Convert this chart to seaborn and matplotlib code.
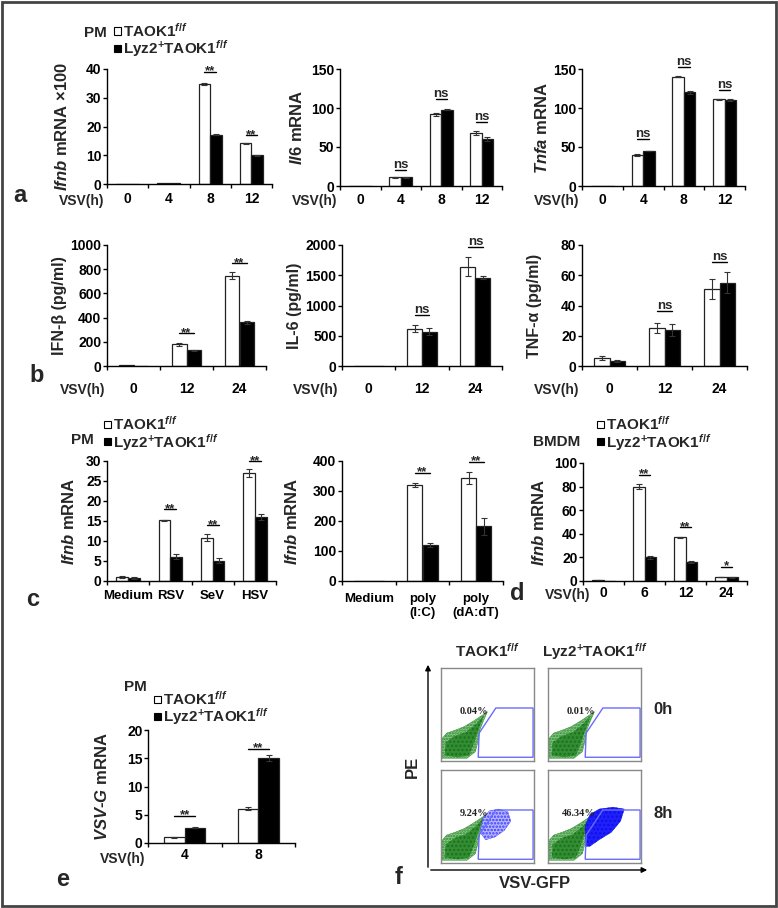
import numpy as np
import pandas as pd
import matplotlib
matplotlib.use("Agg")
import matplotlib.pyplot as plt
import seaborn as sns
from matplotlib.patches import Polygon, Rectangle, FancyArrowPatch

# ----------------------------
# DATA
# ----------------------------
GENO = ["TAOK1f/f", "Lyz2+TAOK1f/f"]

# a - qPCR, PM, VSV time course
a_time = ["0", "4", "8", "12"]
a_ifnb_wt = [0.1, 0.3, 34.8, 14.2]
a_ifnb_ko = [0.05, 0.2, 17.2, 10.0]
a_ifnb_wt_err = [0, 0, 0.5, 0.2]
a_ifnb_ko_err = [0, 0, 0.3, 0.2]
a_ifnb_sig = [(2, 39, "**"), (3, 17, "**")]

a_il6_wt = [0.5, 11, 92, 68]
a_il6_ko = [0.3, 11, 98, 60]
a_il6_wt_err = [0, 1, 2, 2]
a_il6_ko_err = [0, 1, 1, 2.5]
a_il6_sig = [(1, 20.5, "ns"), (2, 111.5, "ns"), (3, 82, "ns")]

a_tnfa_wt = [0.5, 40, 140, 111]
a_tnfa_ko = [0.3, 45, 120, 110]
a_tnfa_wt_err = [0, 1, 0.5, 1]
a_tnfa_ko_err = [0, 0.5, 2, 1]
a_tnfa_sig = [(1, 60, "ns"), (2, 152.5, "ns"), (3, 123, "ns")]

# b - ELISA
b_time = ["0", "12", "24"]
b_ifnb_wt = [8, 180, 745]
b_ifnb_ko = [0, 130, 360]
b_ifnb_wt_err = [0, 12, 30]
b_ifnb_ko_err = [0, 5, 15]
b_ifnb_sig = [(1, 270, "**"), (2, 851, "**")]

b_il6_wt = [0, 615, 1640]
b_il6_ko = [0, 570, 1460]
b_il6_wt_err = [0, 60, 160]
b_il6_ko_err = [0, 55, 30]
b_il6_sig = [(1, 840, "ns"), (2, 1960, "ns")]

b_tnf_wt = [5.2, 25, 51]
b_tnf_ko = [3.2, 24, 55]
b_tnf_wt_err = [1.2, 3.5, 6.5]
b_tnf_ko_err = [0.8, 4, 7]
b_tnf_sig = [(1, 36.5, "ns"), (2, 69, "ns")]

# c - other viruses / ligands
c_virus = ["Medium", "RSV", "SeV", "HSV"]
c_virus_wt = [1.0, 15.2, 10.8, 27.0]
c_virus_ko = [0.7, 6.1, 5.1, 16.0]
c_virus_wt_err = [0.3, 0.1, 0.9, 0.9]
c_virus_ko_err = [0.2, 0.6, 0.6, 0.8]
c_virus_sig = [(1, 17.9, "**"), (2, 13.9, "**"), (3, 30, "**")]

c_ligand = ["Medium", "poly\n(I:C)", "poly\n(dA:dT)"]
c_ligand_wt = [0.5, 320, 343]
c_ligand_ko = [1, 120, 182]
c_ligand_wt_err = [0, 8, 20]
c_ligand_ko_err = [0, 8, 28]
c_ligand_sig = [(1, 361, "**"), (2, 398, "**")]

# d - BMDM
d_time = ["0", "6", "12", "24"]
d_ifnb_wt = [0.8, 80, 37, 3.5]
d_ifnb_ko = [0.3, 20, 16, 3.0]
d_ifnb_wt_err = [0.3, 2, 0.5, 0.3]
d_ifnb_ko_err = [0, 1.5, 1, 0.5]
d_ifnb_sig = [(1, 90, "**"), (2, 45.6, "**"), (3, 12.2, "*")]

# e - VSV-G
e_time = ["4", "8"]
e_vsvg_wt = [1.0, 6.1]
e_vsvg_ko = [2.7, 15.0]
e_vsvg_wt_err = [0.15, 0.3]
e_vsvg_ko_err = [0.1, 0.5]
e_vsvg_sig = [(0, 4.8, "**"), (1, 16.7, "**")]

# f - flow cytometry (box coords 0-1)
f_pct = [["0.04%", "0.01%"], ["9.24%", "46.34%"]]
f_gate_x = [0.40, 0.41, 0.59, 0.99, 0.99]
f_gate_y = [0.04, 0.30, 0.57, 0.57, 0.04]
f_green_x = [0.01, 0.01, 0.06, 0.15, 0.25, 0.35, 0.44, 0.50, 0.46, 0.42, 0.40, 0.37, 0.28]
f_green_y = [0.03, 0.24, 0.30, 0.33, 0.37, 0.43, 0.49, 0.53, 0.44, 0.34, 0.22, 0.10, 0.03]
f_green_core_x = [0.04, 0.05, 0.15, 0.27, 0.38, 0.46, 0.40, 0.35, 0.30, 0.18]
f_green_core_y = [0.06, 0.20, 0.27, 0.31, 0.40, 0.49, 0.33, 0.18, 0.06, 0.04]
f_blue_low_x = [0.42, 0.45, 0.52, 0.62, 0.72, 0.75, 0.68, 0.58, 0.48]
f_blue_low_y = [0.33, 0.48, 0.56, 0.58, 0.55, 0.45, 0.35, 0.28, 0.25]
f_blue_high_x = [0.40, 0.40, 0.45, 0.55, 0.70, 0.82, 0.78, 0.68, 0.55, 0.45]
f_blue_high_y = [0.18, 0.40, 0.52, 0.58, 0.60, 0.58, 0.45, 0.33, 0.25, 0.18]

# ----------------------------
# STYLE
# ----------------------------
sns.set_theme(style="ticks")
plt.rcParams["font.family"] = ["Liberation Sans", "DejaVu Sans"]
plt.rcParams["font.weight"] = "bold"
plt.rcParams["axes.labelweight"] = "bold"
plt.rcParams["axes.edgecolor"] = "black"
plt.rcParams["axes.linewidth"] = 1.0
plt.rcParams["xtick.color"] = "black"
plt.rcParams["ytick.color"] = "black"
plt.rcParams["hatch.linewidth"] = 1.2
plt.rcParams["mathtext.fontset"] = "custom"
plt.rcParams["mathtext.rm"] = "Liberation Sans:bold"
plt.rcParams["mathtext.it"] = "Liberation Sans:italic:bold"
plt.rcParams["mathtext.bf"] = "Liberation Sans:bold"

W, H = 778, 908
fig = plt.figure(figsize=(W / 100, H / 100), dpi=100)

LBL_WT = r"TAOK1$^{f/f}$"
LBL_KO = r"Lyz2$^{+}$TAOK1$^{f/f}$"


def px_axes(x0, x1, y_top, y_bot):
    return fig.add_axes([x0 / W, 1 - y_bot / H, (x1 - x0) / W, (y_bot - y_top) / H])


def ftext(x, y, s, **kw):
    fig.text(x / W, 1 - y / H, s, **kw)


def bar_panel(box, cats, wt, ko, wt_err, ko_err, ymax, yticks, ylabel, ylab_px,
              tick_y, sigs, xsize=10, ysize=12):
    x0, x1, y_top, y_bot = box
    ax = px_axes(x0, x1, y_top, y_bot)
    df = pd.DataFrame({
        "cat": cats * 2,
        "val": wt + ko,
        "geno": [GENO[0]] * len(cats) + [GENO[1]] * len(cats),
    })
    sns.barplot(data=df, x="cat", y="val", hue="geno", palette=["white", "black"],
                saturation=1, width=0.56, errorbar=None, edgecolor="#222",
                linewidth=0.9, legend=False, ax=ax)
    for cont, err in zip(ax.containers, [wt_err, ko_err]):
        xs = [p.get_x() + p.get_width() / 2 for p in cont]
        ys = [p.get_height() for p in cont]
        keep = [i for i, e in enumerate(err) if e > 0]
        if keep:
            ax.errorbar([xs[i] for i in keep], [ys[i] for i in keep],
                        yerr=[err[i] for i in keep], fmt="none", ecolor="#333",
                        elinewidth=0.8, capsize=2.3, capthick=0.8)
    ax.set_ylim(0, ymax)
    ax.set_yticks(yticks)
    ax.set_xlabel("")
    ax.set_ylabel(ylabel, fontsize=ysize)
    sns.despine(ax=ax)
    n = len(cats)
    ax.set_xlim(-0.5, n - 0.5)
    ax.set_xticks(np.arange(n + 1) - 0.5, minor=True)
    pad_pt = max((tick_y - y_bot - 7.6) / 1.389, 0.5)
    ax.tick_params(axis="x", which="major", length=0, pad=pad_pt, labelsize=xsize)
    ax.tick_params(axis="x", which="minor", length=3, width=1)
    ax.tick_params(axis="y", length=3, width=1, labelsize=10, pad=1)
    ax.yaxis.set_label_coords((ylab_px + 8 - x0) / (x1 - x0), 0.5)
    for i, y, s in sigs:
        ax.plot([i - 0.14, i + 0.14], [y, y], color="black", lw=1, clip_on=False)
        off = -2 if "*" in s else 1.5
        ax.annotate(s, (i, y), xytext=(0, off), textcoords="offset points",
                    ha="center", va="baseline", fontsize=9.5, annotation_clip=False)
    return ax


def key(x, y, face, label, size=11):
    fig.add_artist(Rectangle(((x - 3.5) / W, 1 - (y + 3.5) / H), 7 / W, 7 / H,
                             transform=fig.transFigure, facecolor=face,
                             edgecolor="black", lw=0.8))
    ftext(x + 6, y + 6, label, ha="left", va="baseline", fontsize=size)


def legend_block(head, head_x, head_y, sq_x, y1, y2):
    ftext(head_x, head_y, head, ha="center", va="center", fontsize=11)
    key(sq_x, y1, "white", LBL_WT)
    key(sq_x, y2, "black", LBL_KO)


# ----------------------------
# PANEL a
# ----------------------------
bar_panel((107, 272, 69, 184), a_time, a_ifnb_wt, a_ifnb_ko, a_ifnb_wt_err, a_ifnb_ko_err,
          40, [0, 10, 20, 30, 40], r"$\mathit{Ifnb}$ mRNA ×100", 62, 200, a_ifnb_sig)
bar_panel((340, 502, 69, 186), a_time, a_il6_wt, a_il6_ko, a_il6_wt_err, a_il6_ko_err,
          150, [0, 50, 100, 150], r"$\mathit{Il6}$ mRNA", 297, 201, a_il6_sig)
bar_panel((582, 745, 69, 186), a_time, a_tnfa_wt, a_tnfa_ko, a_tnfa_wt_err, a_tnfa_ko_err,
          150, [0, 50, 100, 150], r"$\mathit{Tnfa}$ mRNA", 542, 201, a_tnfa_sig)
for xr in [104, 337, 579]:
    ftext(xr, 201, "VSV(h)", ha="right", va="center", fontsize=10)
ftext(20, 196, "a", ha="center", va="center", fontsize=17)
legend_block("PM", 95, 33, 117, 31, 48)

# ----------------------------
# PANEL b
# ----------------------------
bar_panel((107, 266, 245, 366), b_time, b_ifnb_wt, b_ifnb_ko, b_ifnb_wt_err, b_ifnb_ko_err,
          1000, [0, 200, 400, 600, 800, 1000], "IFN-β (pg/ml)", 59, 390, b_ifnb_sig, ysize=11.5)
bar_panel((342, 502, 245, 366), b_time, b_il6_wt, b_il6_ko, b_il6_wt_err, b_il6_ko_err,
          2000, [0, 500, 1000, 1500, 2000], "IL-6 (pg/ml)", 294, 390, b_il6_sig, ysize=11.5)
bar_panel((582, 747, 245, 366), b_time, b_tnf_wt, b_tnf_ko, b_tnf_wt_err, b_tnf_ko_err,
          80, [0, 20, 40, 60, 80], "TNF-α (pg/ml)", 534, 390, b_tnf_sig, ysize=11.5)
for xr in [105, 338, 579]:
    ftext(xr, 390, "VSV(h)", ha="right", va="center", fontsize=10)
ftext(37, 376, "b", ha="center", va="center", fontsize=17)

# ----------------------------
# PANEL c / d
# ----------------------------
bar_panel((107, 276, 461, 581), c_virus, c_virus_wt, c_virus_ko, c_virus_wt_err, c_virus_ko_err,
          30, [0, 5, 10, 15, 20, 25, 30], r"$\mathit{Ifnb}$ mRNA", 69, 598, c_virus_sig, xsize=9.5)
bar_panel((342, 503, 461, 581), c_ligand, c_ligand_wt, c_ligand_ko, c_ligand_wt_err, c_ligand_ko_err,
          400, [0, 100, 200, 300, 400], r"$\mathit{Ifnb}$ mRNA", 292, 601, c_ligand_sig, xsize=9.5)
ftext(33, 600, "c", ha="center", va="center", fontsize=17)
legend_block("PM", 82, 440, 107, 424, 442)

bar_panel((583, 747, 463, 581), d_time, d_ifnb_wt, d_ifnb_ko, d_ifnb_wt_err, d_ifnb_ko_err,
          100, [0, 20, 40, 60, 80, 100], r"$\mathit{Ifnb}$ mRNA", 539, 594, d_ifnb_sig)
ftext(590, 595, "VSV(h)", ha="right", va="center", fontsize=10)
ftext(517, 593, "d", ha="center", va="center", fontsize=17)
legend_block("BMDM", 557, 442, 600, 424, 442)

# ----------------------------
# PANEL e
# ----------------------------
bar_panel((148, 295, 730, 843), e_time, e_vsvg_wt, e_vsvg_ko, e_vsvg_wt_err, e_vsvg_ko_err,
          20, [0, 5, 10, 15, 20], r"$\mathit{VSV}$-$\mathit{G}$ mRNA", 102, 856, e_vsvg_sig)
ftext(145, 859, "VSV(h)", ha="right", va="center", fontsize=10)
ftext(63, 879, "e", ha="center", va="center", fontsize=17)
legend_block("PM", 135, 687, 157, 699, 716)

# ----------------------------
# PANEL f - flow plots
# ----------------------------
col_px = [(441, 534), (548, 641)]
row_px = [(668, 761), (770, 863)]
for r, (yt, yb) in enumerate(row_px):
    for c, (xl, xr) in enumerate(col_px):
        ax = px_axes(xl, xr, yt, yb)
        ax.set_xlim(0, 1)
        ax.set_ylim(0, 1)
        ax.set_xticks([])
        ax.set_yticks([])
        for sp in ax.spines.values():
            sp.set_color("#888")
            sp.set_linewidth(1)
        ax.add_patch(Polygon(np.column_stack([f_green_x, f_green_y]), closed=True,
                             facecolor="#8cc88c", edgecolor="#2e8b2e", hatch="......",
                             lw=0.3))
        ax.add_patch(Polygon(np.column_stack([f_green_core_x, f_green_core_y]), closed=True,
                             facecolor="#2e8b2e", edgecolor="#1c6e1c", hatch="....",
                             lw=0, alpha=0.9))
        if r == 1:
            dense = c == 1
            bx = f_blue_high_x if dense else f_blue_low_x
            by = f_blue_high_y if dense else f_blue_low_y
            ax.add_patch(Polygon(np.column_stack([bx, by]), closed=True,
                                 facecolor="#2020ff" if dense else "#b8b8ff",
                                 edgecolor="#1010e0" if dense else "#3a3aff",
                                 hatch="...." if dense else ".....", lw=0.3))
        ax.add_patch(Polygon(np.column_stack([f_gate_x, f_gate_y]), closed=True,
                             fill=False, edgecolor="#6a6aff", lw=1))
        ax.text(0.51, 0.53, f_pct[r][c], ha="right", va="center", fontsize=7.5,
                family="Liberation Serif", weight="bold", color="#222")

fig.add_artist(FancyArrowPatch((428 / W, 1 - 870 / H), (428 / W, 1 - 662 / H),
                               transform=fig.transFigure, arrowstyle="-|>",
                               mutation_scale=8, lw=1, color="black"))
fig.add_artist(FancyArrowPatch((428 / W, 1 - 870 / H), (650 / W, 1 - 870 / H),
                               transform=fig.transFigure, arrowstyle="-|>",
                               mutation_scale=8, lw=1, color="black"))
ftext(487, 657, LBL_WT, ha="center", va="baseline", fontsize=11)
ftext(595, 657, LBL_KO, ha="center", va="baseline", fontsize=11)
ftext(653, 710, "0h", ha="left", va="center", fontsize=12)
ftext(653, 813, "8h", ha="left", va="center", fontsize=12)
ftext(412, 767, "PE", ha="center", va="center", fontsize=12, rotation=90)
ftext(535, 883, "VSV-GFP", ha="center", va="center", fontsize=12)
ftext(399, 877, "f", ha="center", va="center", fontsize=17)

# outer frame
fig.add_artist(Rectangle((2 / W, 2 / H), 774 / W, 904 / H, transform=fig.transFigure,
                         fill=False, lw=2, edgecolor="#444"))

fig.savefig("out.png", dpi=100)
